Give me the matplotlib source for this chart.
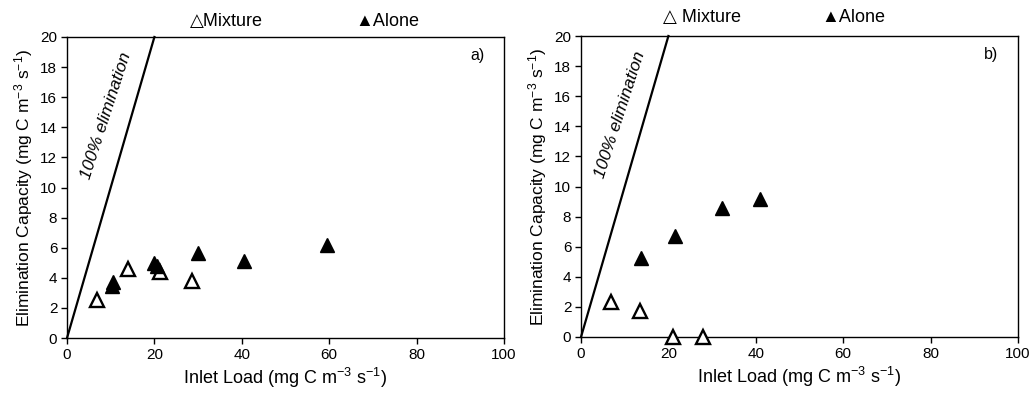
import matplotlib.pyplot as plt
import numpy as np

plt.rcParams['font.family'] = ['Liberation Sans', 'DejaVu Sans']
plt.rcParams['mathtext.fontset'] = 'custom'
plt.rcParams['mathtext.rm'] = 'Liberation Sans'
plt.rcParams['mathtext.it'] = 'Liberation Sans:italic'

# panel a) data
a_mix_x = [6.9, 13.9, 21.2, 28.6]
a_mix_y = [2.5, 4.6, 4.4, 3.8]
a_alone_x = [10.5, 10.3, 19.8, 20.6, 29.9, 40.6, 59.4]
a_alone_y = [3.75, 3.45, 5.0, 4.8, 5.65, 5.1, 6.2]

# panel b) data
b_mix_x = [6.9, 13.4, 21.0, 27.9]
b_mix_y = [2.3, 1.7, 0.0, 0.0]
b_alone_x = [13.8, 21.4, 32.3, 40.9]
b_alone_y = [5.25, 6.7, 8.6, 9.2]

xticks = [0, 20, 40, 60, 80, 100]
yticks = [0, 2, 4, 6, 8, 10, 12, 14, 16, 18, 20]

fig = plt.figure(figsize=(10.32, 3.96), dpi=100)
ax1 = fig.add_axes([67 / 1032, 1 - 338 / 396, 437 / 1032, 301 / 396])
ax2 = fig.add_axes([581 / 1032, 1 - 337 / 396, 437 / 1032, 301 / 396])

panels = [(ax1, a_mix_x, a_mix_y, a_alone_x, a_alone_y, 'a)'),
          (ax2, b_mix_x, b_mix_y, b_alone_x, b_alone_y, 'b)')]

for ax, mx, my, ax_, ay, tag in panels:
    ln = np.array([0, 20])
    ax.plot(ln, ln, color='black', lw=1.6, clip_on=False, zorder=2)
    ax.plot(mx, my, linestyle='none', marker='^', markersize=10,
            markerfacecolor='white', markeredgecolor='black',
            markeredgewidth=1.7, clip_on=False, zorder=3)
    ax.plot(ax_, ay, linestyle='none', marker='^', markersize=10,
            color='black', clip_on=False, zorder=3)
    ax.set_xlim(0, 100)
    ax.set_ylim(0, 20)
    ax.set_xticks(xticks)
    ax.set_yticks(yticks)
    ax.tick_params(direction='out', length=4, width=1, labelsize=11,
                   colors='black', pad=3)
    for s in ax.spines.values():
        s.set_linewidth(1)
        s.set_color('black')
    ax.set_xlabel('Inlet Load (mg C m$^{-3}$ s$^{-1}$)', fontsize=13, labelpad=3)
    ax.set_ylabel('Elimination Capacity (mg C m$^{-3}$ s$^{-1}$)', fontsize=12.5,
                  labelpad=4)
    ax.text(0.955, 0.94, tag, transform=ax.transAxes, fontsize=11.5,
            ha='right', va='center')
    ax.text(8.9, 14.8, '100% elimination', rotation=72, style='italic',
            fontsize=12.5, ha='center', va='center')

fig.text(190 / 1032, 1 - 22 / 396, '\u25b3Mixture', fontsize=13, va='center')
fig.text(355 / 1032, 1 - 22 / 396, '\u25b2Alone', fontsize=13, va='center')
fig.text(663 / 1032, 1 - 17 / 396, '\u25b3 Mixture', fontsize=13, va='center')
fig.text(821 / 1032, 1 - 17 / 396, '\u25b2Alone', fontsize=13, va='center')

fig.savefig('out.png', dpi=100)
